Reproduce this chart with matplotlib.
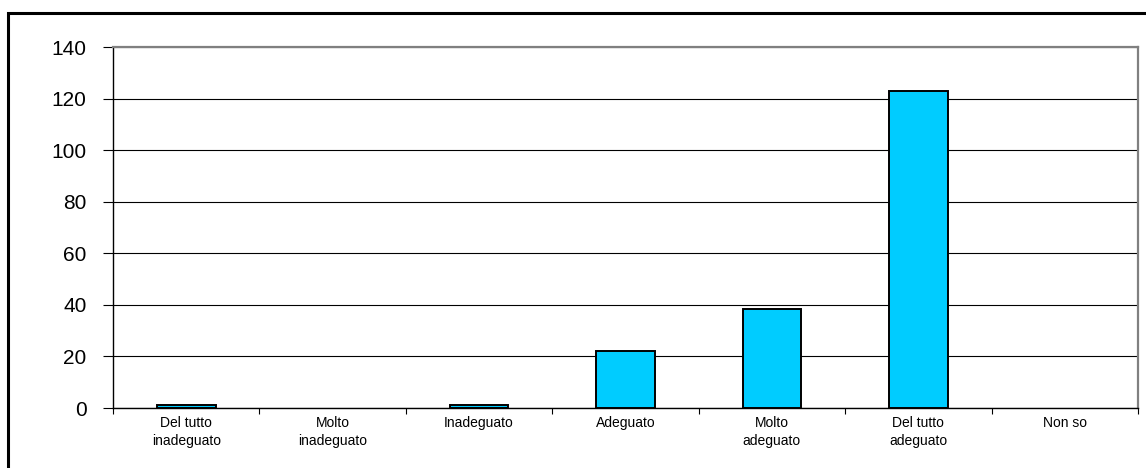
import matplotlib.pyplot as plt
import numpy as np
from matplotlib.patches import Rectangle

categories = ["Del tutto\ninadeguato", "Molto\ninadeguato", "Inadeguato", "Adeguato",
              "Molto\nadeguato", "Del tutto\nadeguato", "Non so"]
values = [1, 0, 1, 22, 38.5, 123, 0]
yticks = [0, 20, 40, 60, 80, 100, 120, 140]

plt.rcParams['font.family'] = ['Liberation Sans', 'DejaVu Sans']

fig = plt.figure(figsize=(11.46, 4.68), dpi=100)
ax = fig.add_axes([113 / 1146, 60 / 468, 1025 / 1146, 361 / 468])

x = np.arange(len(categories))
bars = ax.bar(x, values, width=0.4, color='#00CCFF', edgecolor='black', linewidth=1.4, zorder=3)
# empty categories show no bar outline
for b, v in zip(bars, values):
    if v == 0:
        b.set_visible(False)

ax.set_xlim(-0.5, len(categories) - 0.5)
ax.set_ylim(0, 140)
ax.set_yticks(yticks)
ax.set_yticklabels([str(v) for v in yticks], fontsize=15)
ax.yaxis.grid(True, color='black', linewidth=0.8)
ax.set_axisbelow(True)

ax.set_xticks(x)
ax.set_xticklabels(categories, fontsize=10, linespacing=1.35)
ax.set_xticks(np.arange(len(categories) + 1) - 0.5, minor=True)
ax.tick_params(axis='x', which='major', length=0, pad=6)
ax.tick_params(axis='x', which='minor', length=4, width=0.8, color='black')
ax.tick_params(axis='y', length=7, width=0.8, color='black', pad=12)

for side in ('left', 'bottom'):
    ax.spines[side].set_color('black')
    ax.spines[side].set_linewidth(1.0)
for side in ('top', 'right'):
    ax.spines[side].set_color('#808080')
    ax.spines[side].set_linewidth(1.6)

# outer chart frame (cut off on right and bottom)
fig.patches.append(Rectangle((8 / 1146, -0.05), 1.1, (468 - 13) / 468 + 0.05,
                             transform=fig.transFigure, fill=False,
                             edgecolor='black', linewidth=2.2))

fig.savefig('out.png', dpi=100)
